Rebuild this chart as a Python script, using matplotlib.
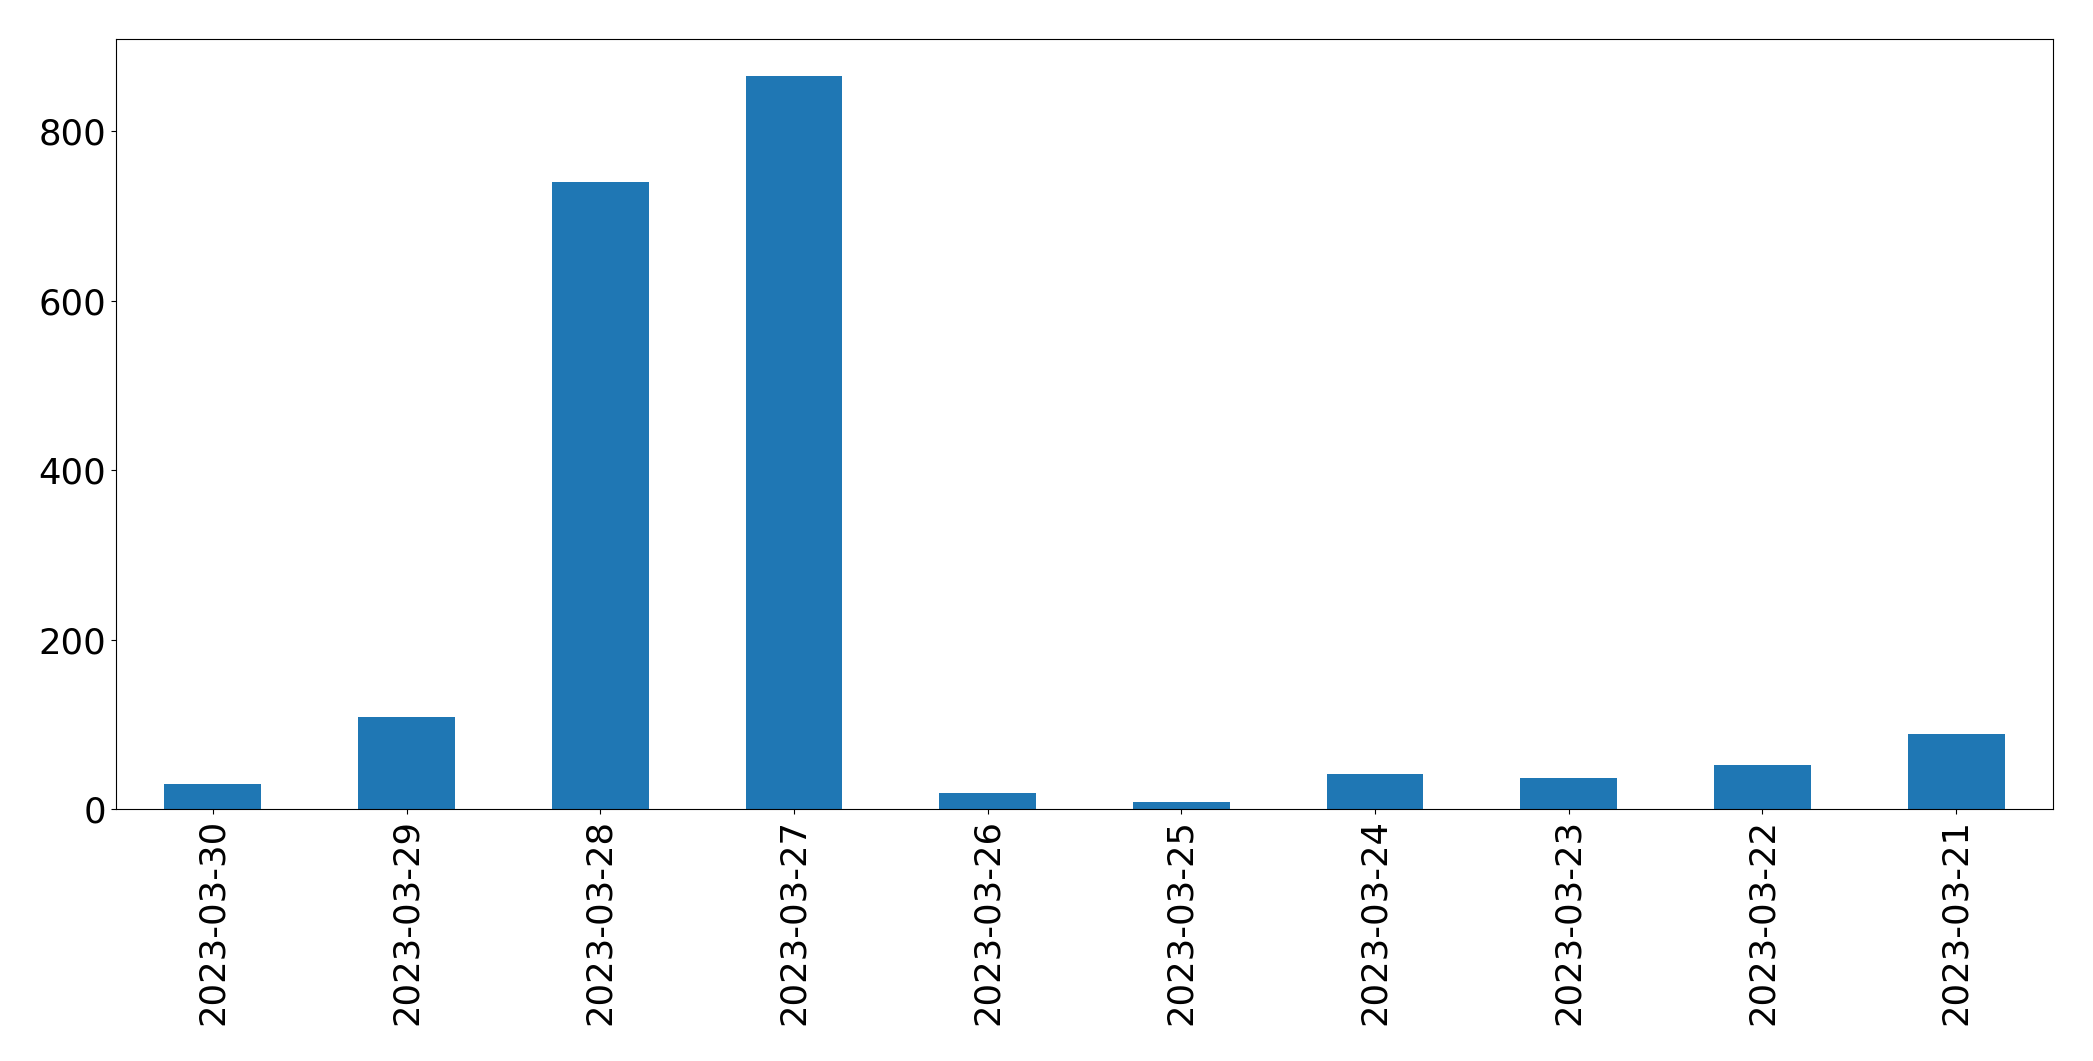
import matplotlib
matplotlib.use('Agg')
import matplotlib.pyplot as plt

# daily counts, newest first (as in the original)
dates = ['2023-03-30', '2023-03-29', '2023-03-28', '2023-03-27', '2023-03-26',
         '2023-03-25', '2023-03-24', '2023-03-23', '2023-03-22', '2023-03-21']
counts = [29, 109, 740, 865, 19, 8, 41, 37, 52, 88]

fig = plt.figure(figsize=(20.93, 10.61), dpi=100)
ax = fig.add_axes([0.0554, 0.2375, 0.9255, 0.7255])

positions = list(range(len(dates)))
ax.bar(positions, counts, width=0.5, color='#1f77b4')
ax.set_xlim(-0.5, len(dates) - 0.5)
ax.set_ylim(0, max(counts) * 1.05)

ax.set_xticks(positions)
ax.set_xticklabels(dates, rotation=90)
ax.set_yticks([0, 200, 400, 600, 800])
ax.tick_params(axis='both', labelsize=25.5)

fig.savefig('out.png', dpi=100)
